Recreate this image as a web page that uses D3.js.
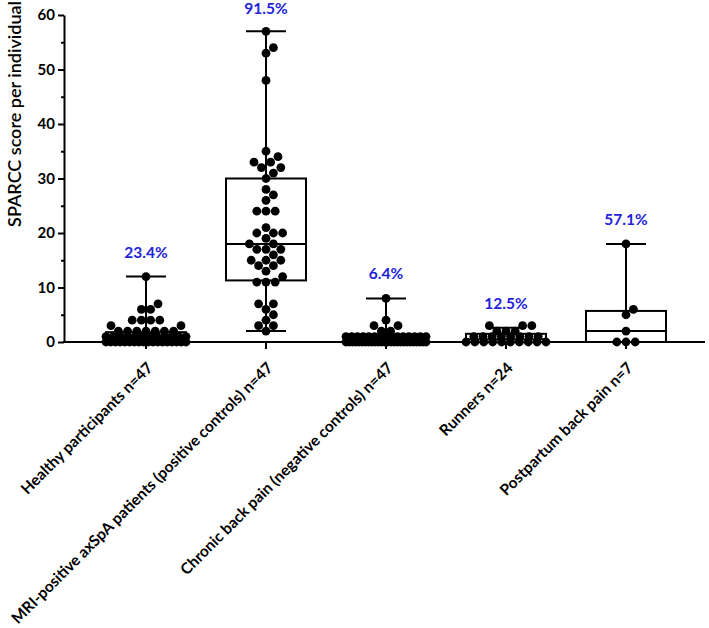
<!DOCTYPE html>
<html>
<head>
<meta charset="utf-8">
<script src="https://cdn.jsdelivr.net/npm/d3@7/dist/d3.min.js"></script>
<style>
  html, body { margin: 0; padding: 0; background: #fff; }
  svg { display: block; font-family: Lato, "Open Sans", sans-serif; }
</style>
</head>
<body>
<svg id="chart" width="709" height="628"></svg>
<script>
// ---------- data ----------
const categories = [
  "Healthy participants n=47",
  "MRI-positive axSpA patients (positive controls) n=47",
  "Chronic back pain (negative controls) n=47",
  "Runners n=24",
  "Postpartum back pain n=7"
];
const healthy = [12, 7, 6, 6, 4, 4, 4, 4, 3, 3,
  2, 2, 2, 2, 2, 2, 2,
  1, 1, 1, 1, 1, 1, 1, 1, 1, 1, 1, 1,
  0, 0, 0, 0, 0, 0, 0, 0, 0, 0, 0, 0, 0, 0, 0, 0, 0, 0];
const mriPositive = [57, 54, 53, 48, 35, 34, 33, 33, 32, 32, 31, 30, 28, 27, 26,
  24, 24, 24, 21, 20, 20, 20, 19, 18, 18, 17, 17, 17, 16, 15, 15, 15, 14, 14,
  13, 12, 11, 11, 11, 7, 7, 6, 5, 4, 3, 3, 2];
const chronic = [8, 4, 3, 3, 2, 2,
  1, 1, 1, 1, 1, 1, 1, 1, 1, 1, 1, 1, 1, 1, 1,
  0, 0, 0, 0, 0, 0, 0, 0, 0, 0, 0, 0, 0, 0, 0, 0, 0, 0, 0, 0, 0, 0, 0, 0, 0, 0];
const runners = [3, 3, 3, 2, 2, 2, 1, 1, 1, 1, 1, 1, 1, 1,
  0, 0, 0, 0, 0, 0, 0, 0, 0, 0];
const postpartum = [18, 6, 5, 2, 0, 0, 0];
const seriesValues = [healthy, mriPositive, chronic, runners, postpartum];

// box statistics: [low whisker, Q1, median, Q3, high whisker]
const boxLow    = [0, 2, 0, 0, 0];
const boxQ1     = [0, 11.3, 0, 0, 0];
const boxMedian = [1, 18, 0, 0.5, 2];
const boxQ3     = [1.8, 30, 1, 1.5, 5.7];
const boxHigh   = [12, 57, 8, 2.6, 18];
const percentLabels = ["23.4%", "91.5%", "6.4%", "12.5%", "57.1%"];
const yMajorTicks = [0, 10, 20, 30, 40, 50, 60];
const yMinorTicks = [5, 15, 25, 35, 45, 55];

// ---------- layout ----------
const svg = d3.select("#chart");
const axisX0 = 64, axisX1 = 705, plotTop = 15, plotBottom = 342;
const y = d3.scaleLinear().domain([0, 60]).range([plotBottom, plotTop]);
const x = d3.scaleBand().domain(categories).range([86, 686]).paddingInner(0).paddingOuter(0);
const cx = c => x(c) + x.bandwidth() / 2;

const boxW = 80, capW = 40, R = 4.4, D = 9.2, halfW = 40;

function swarm(values) {
  const counts = d3.rollup(values, v => v.length, d => d);
  const vals = Array.from(counts.keys()).sort((a, b) => a - b);
  const placed = [], out = [];
  for (const v of vals) {
    const k = counts.get(v), yy = y(v);
    if (k >= 8) {
      const step = Math.min(D, 2 * halfW / (k - 1));
      for (let i = 0; i < k; i++) out.push({ v, dx: (i - (k - 1) / 2) * step });
      continue;
    }
    const offs = d3.range(k).map(i => (i - (k - 1) / 2) * D)
      .sort((a, b) => Math.abs(a) - Math.abs(b));
    for (let o of offs) {
      const dir = o < 0 ? -1 : 1;
      let guard = 0;
      while (guard++ < 200) {
        const hit = placed.find(p => Math.abs(p.y - yy) < D &&
          Math.abs(p.dx - o) < Math.sqrt(D * D - (p.y - yy) ** 2) - 1e-6);
        if (!hit) break;
        o = hit.dx + dir * Math.sqrt(D * D - (hit.y - yy) ** 2);
      }
      placed.push({ dx: o, y: yy });
      out.push({ v, dx: o });
    }
  }
  return out;
}

// ---------- boxes ----------
const g = svg.append("g");
categories.forEach((c, i) => {
  const xc = cx(c);
  const bg = g.append("g").attr("stroke", "#000").attr("stroke-width", 2).attr("fill", "none");
  bg.append("line").attr("x1", xc).attr("x2", xc).attr("y1", y(boxHigh[i])).attr("y2", y(boxQ3[i]));
  bg.append("line").attr("x1", xc).attr("x2", xc).attr("y1", y(boxQ1[i])).attr("y2", y(boxLow[i]));
  bg.append("line").attr("x1", xc - capW / 2).attr("x2", xc + capW / 2).attr("y1", y(boxHigh[i])).attr("y2", y(boxHigh[i]));
  bg.append("line").attr("x1", xc - capW / 2).attr("x2", xc + capW / 2).attr("y1", y(boxLow[i])).attr("y2", y(boxLow[i]));
  bg.append("rect").attr("x", xc - boxW / 2).attr("width", boxW)
    .attr("y", y(boxQ3[i])).attr("height", y(boxQ1[i]) - y(boxQ3[i]))
    .attr("fill", "#fff");
  bg.append("line").attr("x1", xc - boxW / 2).attr("x2", xc + boxW / 2)
    .attr("y1", y(boxMedian[i])).attr("y2", y(boxMedian[i]));
});

// ---------- axes ----------
const yAxis = svg.append("g").attr("transform", `translate(${axisX0},0)`)
  .call(d3.axisLeft(y).tickValues(yMajorTicks).tickSize(6).tickSizeOuter(0).tickFormat(d3.format("d")));
yAxis.selectAll("path, line").attr("stroke", "#000").attr("stroke-width", 2);
yAxis.selectAll("text").attr("font-size", 15).attr("font-weight", "bold")
  .attr("font-family", "Lato, sans-serif").attr("fill", "#000").attr("x", -9);
const yMinor = svg.append("g").attr("transform", `translate(${axisX0},0)`)
  .call(d3.axisLeft(y).tickValues(yMinorTicks).tickSize(3).tickFormat(""));
yMinor.select("path").remove();
yMinor.selectAll("line").attr("stroke", "#000").attr("stroke-width", 2);

svg.append("line").attr("x1", axisX0 - 1).attr("x2", axisX1).attr("y1", plotBottom).attr("y2", plotBottom)
  .attr("stroke", "#000").attr("stroke-width", 2);
const xAxis = svg.append("g").attr("transform", `translate(0,${plotBottom})`)
  .call(d3.axisBottom(x).tickSize(7).tickSizeOuter(0).tickFormat(""));
xAxis.select("path").remove();
xAxis.selectAll("line").attr("stroke", "#000").attr("stroke-width", 2);

svg.append("g").selectAll("text").data(categories).join("text")
  .attr("transform", c => `translate(${cx(c) + 4},${plotBottom + 23}) rotate(-45)`)
  .attr("text-anchor", "end")
  .attr("dy", "0.35em")
  .attr("font-size", 15.5).attr("font-weight", "bold").attr("fill", "#000")
  .text(c => c);

svg.append("text")
  .attr("transform", `translate(21,114) rotate(-90)`)
  .attr("text-anchor", "middle")
  .attr("font-size", 18).attr("font-weight", "600").attr("fill", "#000")
  .text("SPARCC score per individual");

// ---------- points ----------
categories.forEach((c, i) => {
  const pts = swarm(seriesValues[i]);
  svg.append("g").selectAll("circle").data(pts).join("circle")
    .attr("cx", d => cx(c) + d.dx)
    .attr("cy", d => y(d.v))
    .attr("r", R)
    .attr("fill", "#000");
});

// ---------- percentage labels ----------
svg.append("g").selectAll("text").data(categories).join("text")
  .attr("x", c => cx(c))
  .attr("y", (c, i) => Math.max(y(boxHigh[i]) - 19, 14))
  .attr("text-anchor", "middle")
  .attr("font-size", 15.5).attr("font-weight", "bold").attr("fill", "#2222dd")
  .text((c, i) => percentLabels[i]);
</script>
</body>
</html>
